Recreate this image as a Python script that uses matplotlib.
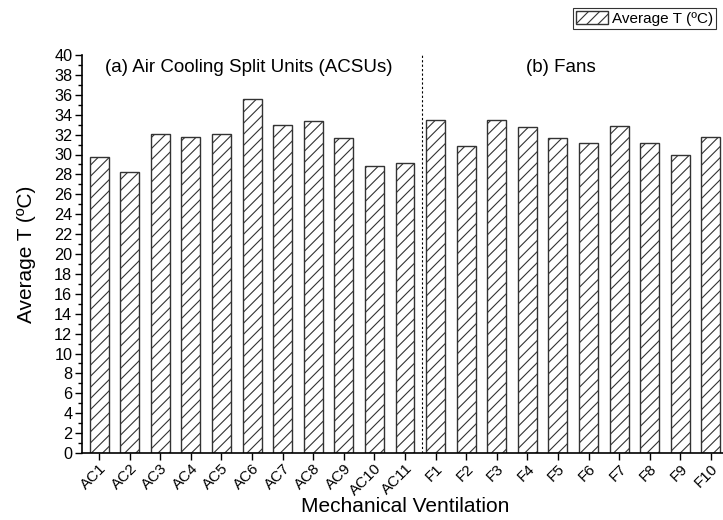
import matplotlib
matplotlib.use("Agg")
import matplotlib.pyplot as plt
from matplotlib.ticker import MultipleLocator

plt.rcParams['font.family'] = ['Liberation Sans', 'DejaVu Sans']
plt.rcParams['hatch.linewidth'] = 0.8

categories = ['AC1', 'AC2', 'AC3', 'AC4', 'AC5', 'AC6', 'AC7', 'AC8', 'AC9', 'AC10', 'AC11',
              'F1', 'F2', 'F3', 'F4', 'F5', 'F6', 'F7', 'F8', 'F9', 'F10']
avg_t = [29.7, 28.2, 32.1, 31.8, 32.1, 35.6, 33.0, 33.4, 31.7, 28.8, 29.1,
         33.5, 30.9, 33.5, 32.8, 31.7, 31.2, 32.9, 31.2, 30.0, 31.8]

fig = plt.figure(figsize=(7.23, 5.2), dpi=100)
ax = fig.add_axes([82/723, 67/520, 646/723, 398/520])

x = list(range(len(categories)))
bars = ax.bar(x, avg_t, width=0.62, facecolor='white', edgecolor='#333333',
              linewidth=1.0, hatch='///', label='Average T (ºC)')

ax.set_xlim(-0.56, 20.56)
ax.set_ylim(0, 40)
ax.yaxis.set_major_locator(MultipleLocator(2))
ax.yaxis.set_minor_locator(MultipleLocator(1))
ax.set_xticks(x)
ax.set_xticklabels(categories, rotation=45, ha='right', rotation_mode='anchor', fontsize=11)
ax.tick_params(axis='y', labelsize=11.7, direction='out', length=5, width=1, pad=2)
ax.tick_params(axis='y', which='minor', direction='out', length=3, width=1)
ax.tick_params(axis='x', direction='out', length=5, width=1, pad=1)
for s in ['top', 'right']:
    ax.spines[s].set_visible(False)
for s in ['left', 'bottom']:
    ax.spines[s].set_linewidth(1.2)

ax.axvline(10.55, color='black', linestyle=(0, (2, 2)), linewidth=0.8)

ax.text(4.9, 38.7, '(a) Air Cooling Split Units (ACSUs)', ha='center', va='center', fontsize=13.5)
ax.text(15.1, 38.7, '(b) Fans', ha='center', va='center', fontsize=13.5)

ax.set_xlabel('Mechanical Ventilation', fontsize=15, labelpad=-1)
ax.set_ylabel('Average T (ºC)', fontsize=15, labelpad=13)

leg = fig.legend(handles=[bars], labels=['Average T (ºC)'], loc='upper right',
                 bbox_to_anchor=(716/723, 1 - 8/520), fontsize=11, frameon=True,
                 fancybox=False, edgecolor='black', handlelength=2.1, handleheight=0.9,
                 handletextpad=0.25, borderpad=0.2, borderaxespad=0)
leg.get_frame().set_linewidth(0.8)

fig.savefig('out.png', dpi=100)
